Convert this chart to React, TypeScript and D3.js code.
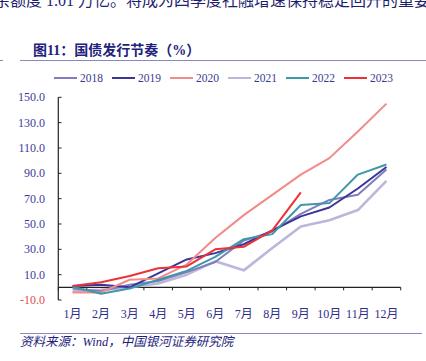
import React from 'react'
import * as d3 from 'd3'

const width = 426
const height = 361

const months = ['1月', '2月', '3月', '4月', '5月', '6月', '7月', '8月', '9月', '10月', '11月', '12月']
const yTicks = [-10, 10, 30, 50, 70, 90, 110, 130, 150]

const s2018 = [-1, -3, 2, 5, 12, 20, 37, 44, 58, 69, 73, 93]
const s2019 = [1, 2, 0, 11, 22, 27, 34, 45, 56, 63, 78, 95]
const s2020 = [-4, -4, 6, 7, 18, 39, 57, 73, 89, 102, 123, 145]
const s2021 = [-3, -2, 0, 3, 10, 20.5, 13.4, 31, 48, 53, 61, 84]
const s2022 = [0.5, -5, -1, 6, 13, 24, 38, 42, 65, 66.5, 89, 97]
const s2023 = [1, 4, 9, 15, 16.5, 30, 32, 45, 75]

const seriesNames = ['2018', '2019', '2020', '2021', '2022', '2023']
const seriesValues = [s2018, s2019, s2020, s2021, s2022, s2023]
const colors = ['#7f7dbd', '#3b3598', '#f28b88', '#bbb6da', '#3f98a7', '#ec3237']
const widths = [2, 2, 2, 2.6, 2, 2]

const serif = '"Liberation Serif", "DejaVu Serif", serif'
const cjk = '"Liberation Serif", "Noto Sans CJK SC", serif'

export default function App() {
  const x = d3.scaleBand().domain(months).range([58.3, 400.7])
  const y = d3.scaleLinear().domain([-10, 150]).range([300, 97.3])

  const line = d3
    .line<number>()
    .x((d, i) => (x(months[i]) as number) + x.bandwidth() / 2)
    .y(d => y(d))

  const bounds = months.map(m => x(m) as number).concat([400.7])
  const order = [3, 0, 1, 2, 4, 5]

  return (
    <svg
      width={width}
      height={height}
      style={{ position: 'absolute', left: 0, top: 0, background: '#fff' }}
    >
      <text x={-6} y={6} fontSize={16} fill="#1e1e6e" fontFamily={cjk}>
        余额度 1.01 万亿。将成为四季度社融增速保持稳定回升的重要
      </text>

      <line x1={0} x2={3} y1={60.5} y2={60.5} stroke="#8a88c0" />
      <text x={33} y={55} fontSize={14} fontWeight="bold" fill="#22227a" fontFamily={cjk}>
        图11：国债发行节奏（%）
      </text>
      <line x1={20} x2={426} y1={60.5} y2={60.5} stroke="#8a88c0" />

      {seriesNames.map((n, i) => (
        <g key={n} transform={`translate(${54 + i * 58},78)`}>
          <line x1={0} x2={23} y1={0} y2={0} stroke={colors[i]} strokeWidth={2} />
          <text x={26} y={4} fontSize={11.5} fill="#3a3a90" fontFamily={serif}>
            {n}
          </text>
        </g>
      ))}

      <line x1={58.3} x2={58.3} y1={y(150)} y2={y(-10)} stroke="#222" strokeWidth={1.2} />
      {yTicks.map(t => (
        <g key={t}>
          <line x1={58.3} x2={61.5} y1={y(t)} y2={y(t)} stroke="#222" />
          <text
            x={45}
            y={y(t) + 4}
            textAnchor="end"
            fontSize={12}
            fill={t < 0 ? '#e2504f' : '#3b3ba0'}
            fontFamily={serif}
          >
            {t.toFixed(1)}
          </text>
        </g>
      ))}

      <line x1={58.3} x2={400.7} y1={y(0)} y2={y(0)} stroke="#222" strokeWidth={1.2} />
      {bounds.map((b, i) => (
        <line key={i} x1={b} x2={b} y1={y(0)} y2={y(0) + 3} stroke="#222" />
      ))}
      {months.map(m => (
        <text
          key={m}
          x={(x(m) as number) + x.bandwidth() / 2}
          y={318}
          textAnchor="middle"
          fontSize={12}
          fill="#2e2e88"
          fontFamily={cjk}
        >
          {m}
        </text>
      ))}

      {order.map(i => (
        <path
          key={seriesNames[i]}
          d={line(seriesValues[i]) || ''}
          fill="none"
          stroke={colors[i]}
          strokeWidth={widths[i]}
          strokeLinejoin="round"
        />
      ))}

      <line x1={20} x2={422} y1={333.5} y2={333.5} stroke="#8a88c0" />
      <text x={20} y={346} fontSize={12.5} fontStyle="italic" fill="#22227a" fontFamily={cjk}>
        资料来源：Wind，中国银河证券研究院
      </text>
    </svg>
  )
}
